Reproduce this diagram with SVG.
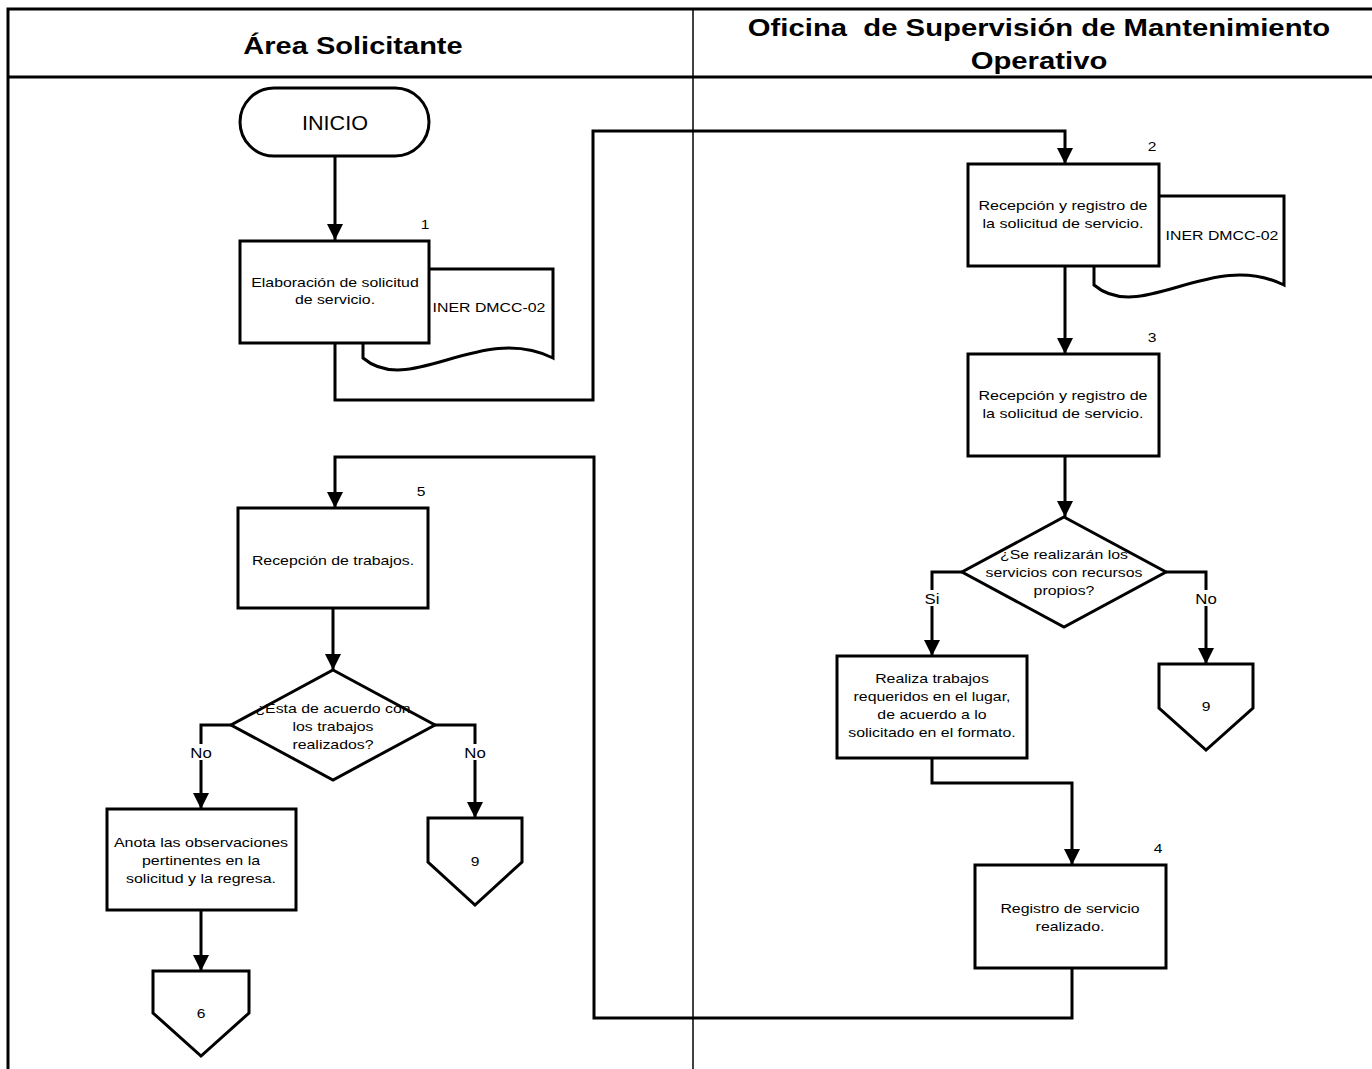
<svg xmlns="http://www.w3.org/2000/svg" width="1372" height="1069" viewBox="0 0 1372 1069">
  <defs>
    <style>
      .lane { fill: none; stroke: #000; stroke-width: 3; }
      .divider { fill: none; stroke: #000; stroke-width: 1.5; }
      .shape { fill: #fff; stroke: #000; stroke-width: 3; stroke-linejoin: miter; }
      .conn { fill: none; stroke: #000; stroke-width: 3; }
      .head { font-family: "Liberation Sans", Arial, sans-serif; font-weight: bold; font-size: 24px; text-anchor: middle; fill: #000; }
      .txt { font-family: "Liberation Sans", Arial, sans-serif; font-size: 13px; text-anchor: middle; fill: #000; }
      .lbl { font-family: "Liberation Sans", Arial, sans-serif; font-size: 14px; text-anchor: middle; fill: #000; }
    </style>
    <marker id="arrow" viewBox="0 0 16 16" refX="16" refY="8" markerWidth="16" markerHeight="16" markerUnits="userSpaceOnUse" orient="auto">
      <path d="M0,0 L16,8 L0,16 Z" fill="#000"/>
    </marker>
  </defs>

  <rect width="1372" height="1069" fill="#fff"/>

  <!-- swimlane frame -->
  <g id="lanes">
    <path class="lane" d="M1372,9 H8 V1069"/>
    <path class="lane" d="M8,77 H1372"/>
    <path class="divider" d="M693,9 V1069"/>
    <g transform="translate(353,0) scale(1.21,1)">
      <text class="head" x="0" y="54">Área Solicitante</text>
    </g>
    <g transform="translate(1039,0) scale(1.22,1)">
      <text class="head" x="0" y="36" xml:space="preserve">Oficina  de Supervisión de Mantenimiento</text>
      <text class="head" x="0" y="69">Operativo</text>
    </g>
  </g>

  <!-- connectors -->
  <g id="connectors">
    <path class="conn" d="M335,156 V240" marker-end="url(#arrow)"/>
    <path class="conn" d="M335,343 V400 H593 V131 H1065 V164" marker-end="url(#arrow)"/>
    <path class="conn" d="M1065,266 V354" marker-end="url(#arrow)"/>
    <path class="conn" d="M1065,456 V517" marker-end="url(#arrow)"/>
    <path class="conn" d="M962,572 H932 V656" marker-end="url(#arrow)"/>
    <path class="conn" d="M1166,572 H1206 V664" marker-end="url(#arrow)"/>
    <path class="conn" d="M932,758 V783 H1072 V865" marker-end="url(#arrow)"/>
    <path class="conn" d="M1072,968 V1018 H594 V457 H335 V508" marker-end="url(#arrow)"/>
    <path class="conn" d="M333,608 V670" marker-end="url(#arrow)"/>
    <path class="conn" d="M231,725 H201 V809" marker-end="url(#arrow)"/>
    <path class="conn" d="M435,725 H475 V818" marker-end="url(#arrow)"/>
    <path class="conn" d="M201,910 V971" marker-end="url(#arrow)"/>
    <!-- branch labels -->
    <rect x="921" y="590" width="22" height="16" fill="#fff"/>
    <text class="lbl" x="0" y="604" transform="translate(932,0) scale(1.2,1)">Si</text>
    <rect x="1193" y="590" width="26" height="16" fill="#fff"/>
    <text class="lbl" x="0" y="604" transform="translate(1206,0) scale(1.2,1)">No</text>
    <rect x="188" y="744" width="26" height="16" fill="#fff"/>
    <text class="lbl" x="0" y="758" transform="translate(201,0) scale(1.2,1)">No</text>
    <rect x="462" y="744" width="26" height="16" fill="#fff"/>
    <text class="lbl" x="0" y="758" transform="translate(475,0) scale(1.2,1)">No</text>
  </g>

  <!-- start terminator -->
  <g id="inicio">
    <rect class="shape" x="240" y="88" width="189" height="68" rx="34" ry="34"/>
    <text class="txt" x="0" y="130" style="font-size:20px" transform="translate(335,0) scale(1.08,1)">INICIO</text>
  </g>

  <!-- step 1 with its form -->
  <g id="step1">
    <path class="shape" d="M363,269 H553 V358 C480,322 410,398 363,358 Z"/>
    <text class="txt" x="0" y="312" transform="translate(489,0) scale(1.22,1)">INER DMCC-02</text>
    <rect class="shape" x="240" y="241" width="189" height="102"/>
    <g transform="translate(335,0) scale(1.22,1)">
      <text class="txt" x="0" y="287">Elaboración de solicitud</text>
      <text class="txt" x="0" y="304">de servicio.</text>
    </g>
    <text class="txt" x="0" y="229" transform="translate(425,0) scale(1.2,1)">1</text>
  </g>

  <!-- step 2 with its form -->
  <g id="step2">
    <path class="shape" d="M1094,196 H1284 V285 C1211,249 1141,325 1094,285 Z"/>
    <text class="txt" x="0" y="240" transform="translate(1222,0) scale(1.22,1)">INER DMCC-02</text>
    <rect class="shape" x="968" y="164" width="191" height="102"/>
    <g transform="translate(1063,0) scale(1.24,1)">
      <text class="txt" x="0" y="210">Recepción y registro de</text>
      <text class="txt" x="0" y="228">la solicitud de servicio.</text>
    </g>
    <text class="txt" x="0" y="151" transform="translate(1152,0) scale(1.2,1)">2</text>
  </g>

  <!-- step 3 -->
  <g id="step3">
    <rect class="shape" x="968" y="354" width="191" height="102"/>
    <g transform="translate(1063,0) scale(1.24,1)">
      <text class="txt" x="0" y="400">Recepción y registro de</text>
      <text class="txt" x="0" y="418">la solicitud de servicio.</text>
    </g>
    <text class="txt" x="0" y="342" transform="translate(1152,0) scale(1.2,1)">3</text>
  </g>

  <!-- decision: own resources -->
  <g id="decision1">
    <path class="shape" d="M1064,517 L1166,572 L1064,627 L962,572 Z"/>
    <g transform="translate(1064,0) scale(1.22,1)">
      <text class="txt" x="0" y="559">¿Se realizarán los</text>
      <text class="txt" x="0" y="577">servicios con recursos</text>
      <text class="txt" x="0" y="595">propios?</text>
    </g>
  </g>

  <!-- work done on site -->
  <g id="work">
    <rect class="shape" x="837" y="656" width="190" height="102"/>
    <g transform="translate(932,0) scale(1.22,1)">
      <text class="txt" x="0" y="683">Realiza trabajos</text>
      <text class="txt" x="0" y="701">requeridos en el lugar,</text>
      <text class="txt" x="0" y="719">de acuerdo a lo</text>
      <text class="txt" x="0" y="737">solicitado en el formato.</text>
    </g>
  </g>

  <!-- off-page connector 9 (right lane) -->
  <g id="offpage9a">
    <path class="shape" d="M1159,664 H1253 V708 L1206,750 L1159,708 Z"/>
    <text class="txt" x="0" y="711" transform="translate(1206,0) scale(1.2,1)">9</text>
  </g>

  <!-- step 4 -->
  <g id="step4">
    <rect class="shape" x="975" y="865" width="191" height="103"/>
    <g transform="translate(1070,0) scale(1.22,1)">
      <text class="txt" x="0" y="913">Registro de servicio</text>
      <text class="txt" x="0" y="931">realizado.</text>
    </g>
    <text class="txt" x="0" y="853" transform="translate(1158,0) scale(1.2,1)">4</text>
  </g>

  <!-- step 5 -->
  <g id="step5">
    <rect class="shape" x="238" y="508" width="190" height="100"/>
    <text class="txt" x="0" y="565" transform="translate(333,0) scale(1.22,1)">Recepción de trabajos.</text>
    <text class="txt" x="0" y="496" transform="translate(421,0) scale(1.2,1)">5</text>
  </g>

  <!-- decision: agreement with the work -->
  <g id="decision2">
    <path class="shape" d="M333,670 L435,725 L333,780 L231,725 Z"/>
    <g transform="translate(333,0) scale(1.22,1)">
      <text class="txt" x="0" y="713">¿Esta de acuerdo con</text>
      <text class="txt" x="0" y="731">los trabajos</text>
      <text class="txt" x="0" y="749">realizados?</text>
    </g>
  </g>

  <!-- observations -->
  <g id="observations">
    <rect class="shape" x="107" y="809" width="189" height="101"/>
    <g transform="translate(201,0) scale(1.23,1)">
      <text class="txt" x="0" y="847">Anota las observaciones</text>
      <text class="txt" x="0" y="865">pertinentes en la</text>
      <text class="txt" x="0" y="883">solicitud y la regresa.</text>
    </g>
  </g>

  <!-- off-page connector 9 (left lane) -->
  <g id="offpage9b">
    <path class="shape" d="M428,818 H522 V862 L475,905 L428,862 Z"/>
    <text class="txt" x="0" y="866" transform="translate(475,0) scale(1.2,1)">9</text>
  </g>

  <!-- off-page connector 6 -->
  <g id="offpage6">
    <path class="shape" d="M153,971 H249 V1013 L201,1056 L153,1013 Z"/>
    <text class="txt" x="0" y="1018" transform="translate(201,0) scale(1.2,1)">6</text>
  </g>
</svg>
